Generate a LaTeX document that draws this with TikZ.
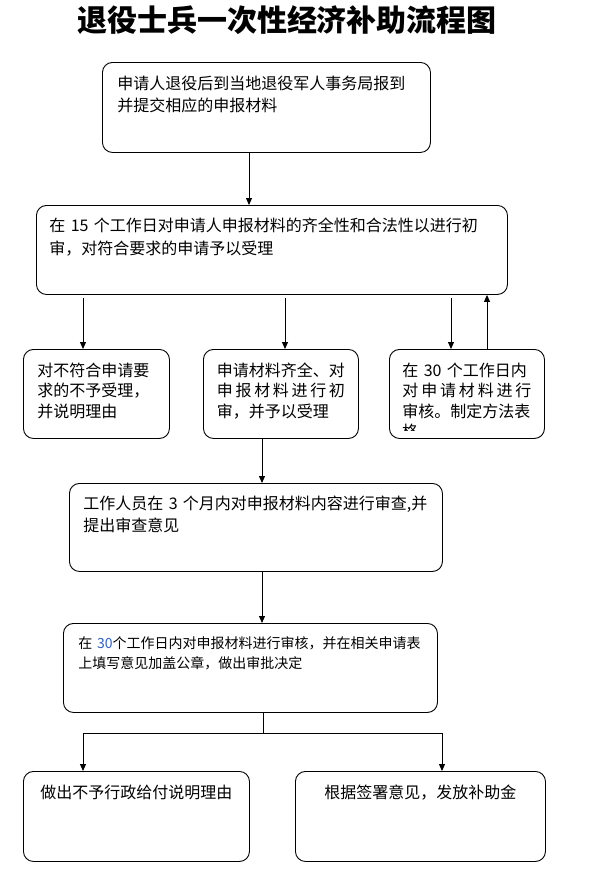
\documentclass[tikz,border=0pt]{standalone}
\usepackage{fontspec}
\usepackage{xcolor}
\newfontfamily\cjk{Noto Sans CJK SC}
\definecolor{numblue}{HTML}{2E5FC8}
\usetikzlibrary{arrows.meta}
\newcommand{\spreadline}[1]{\leavevmode\hbox to\linewidth{#1}}

\begin{document}
\begin{tikzpicture}[x=1pt, y=-1pt,
  box/.style={draw, line width=0.9pt, rounded corners=10pt, anchor=north west, align=left, inner ysep=0pt},
  txt/.style={font=\cjk\fontsize{16}{22}\selectfont},
  smalltxt/.style={font=\cjk\fontsize{16}{20.5}\selectfont},
  arr/.style={-{Triangle[width=6pt, length=7pt]}, line width=0.9pt},
]
\useasboundingbox (0,0) rectangle (594,873);

% title
\node[font=\cjk\bfseries\fontsize{30}{30}\selectfont] (title) at (287,20) {退役士兵一次性经济补助流程图};

% first two steps
\node[box, txt, inner xsep=15pt, text width=298pt, text height=27pt, text depth=63pt] (apply) at (102,62)
  {申请人退役后到当地退役军人事务局报到\\并提交相应的申报材料};
\node[box, txt, font=\cjk\fontsize{16}{23}\selectfont, inner xsep=13pt, text width=445pt, text height=26pt, text depth=63pt] (check) at (36,205)
  {在 15 个工作日对申请人申报材料的齐全性和合法性以进行初\\审，对符合要求的申请予以受理};

% three outcomes of the first check
\node[box, smalltxt, inner xsep=14pt, text width=118pt, text height=27pt, text depth=62pt] (reject) at (23,349)
  {对不符合申请要\\求的不予受理，\\并说明理由};
\node[box, smalltxt, inner xsep=13.5pt, text width=128pt, text height=27pt, text depth=62pt] (accept) at (203,349)
  {申请材料齐全、对\\\spreadline{申\hfill 报\hfill 材\hfill 料\hfill 进\hfill 行\hfill 初}\\审，并予以受理};
\node[box, smalltxt, inner xsep=13pt, text width=129pt, text height=27pt, text depth=62pt] (verify) at (389,349)
  {在 30 个工作日内\\\spreadline{对\hfill 申\hfill 请\hfill 材\hfill 料\hfill 进\hfill 行}\\审核。制定方法表};
% last line of the box is cut off
\begin{scope}
  \clip (389,349) rectangle (544,430);
  \node[smalltxt, anchor=base west, inner sep=0pt] (verifymore) at (402,437.5) {格};
\end{scope}

% review and approval
\node[box, txt, inner xsep=14pt, text width=345pt, text height=26pt, text depth=62pt] (review) at (69,483)
  {工作人员在 3 个月内对申报材料内容进行审查,并\\提出审查意见};
\node[box, font=\cjk\fontsize{14}{20}\selectfont, inner xsep=15pt, text width=344pt, text height=25pt, text depth=64pt] (approve) at (63,623)
  {在 \textcolor{numblue}{30}个工作日内对申报材料进行审核，并在相关申请表\\上填写意见加盖公章，做出审批决定};

% final results
\node[box, txt, align=center, inner xsep=10pt, text width=206pt, text height=27pt, text depth=63pt] (deny) at (23,771)
  {做出不予行政给付说明理由};
\node[box, txt, align=center, inner xsep=10pt, text width=230pt, text height=27pt, text depth=63pt] (pay) at (295,771)
  {根据签署意见，发放补助金};

% connectors
\draw[arr] (apply.south -| 249,0) -- (check.north -| 249,0);
\foreach \xx/\dest in {83/reject, 285/accept, 451/verify}
  \draw[arr, shorten <=3pt] (check.south -| \xx,0) -- (\dest.north -| \xx,0);
\draw[arr] (verify.north -| 487,0) -- (check.south -| 487,0);
\draw[arr] (accept.south -| 262,0) -- (review.north -| 262,0);
\draw[arr] (review.south -| 262,0) -- (approve.north -| 262,0);

\coordinate (split) at (263,733);
\draw[line width=0.9pt] (approve.south -| split) -- (split);
\draw[arr] (split) -| (deny.north -| 83,0);
\draw[arr] (split) -| (pay.north -| 442,0);

\end{tikzpicture}
\end{document}
